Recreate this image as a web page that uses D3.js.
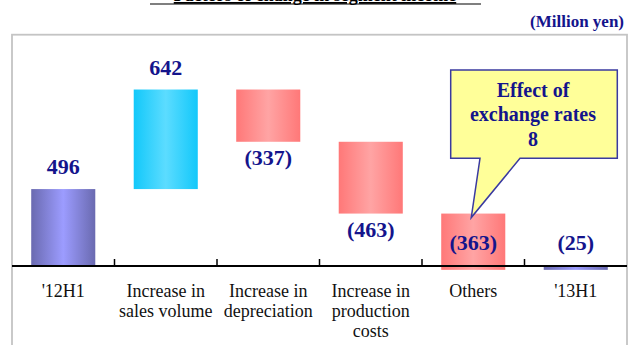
<!DOCTYPE html>
<html>
<head>
<meta charset="utf-8">
<script src="https://cdn.jsdelivr.net/npm/d3@7/dist/d3.min.js"></script>
<style>
  html, body { margin: 0; padding: 0; background: #fff; }
  svg { display: block; }
</style>
</head>
<body>
<script>
// Segment income bridge, '12H1 -> '13H1 (million yen)
const categories = ["'12H1", "Increase in\nsales volume", "Increase in\ndepreciation",
                    "Increase in\nproduction\ncosts", "Others", "'13H1"];
const changes = [496, 642, -337, -463, -363, null];   // null = closing total
const valueLabels = ["496", "642", "(337)", "(463)", "(363)", "(25)"];
const barKinds = ["total", "up", "down", "down", "down", "total"];
const calloutLines = ["Effect of", "exchange rates", "8"];
const titleText = "Factors of change in segment income";
const unitText = "(Million yen)";

// Build floating segments from the running total
let running = 0;
const bars = categories.map((c, i) => {
  let y0, y1;
  if (changes[i] === null) { y0 = 0; y1 = running; }
  else if (barKinds[i] === "total") { y0 = 0; y1 = changes[i]; running = changes[i]; }
  else { y0 = running; running += changes[i]; y1 = running; }
  return { cat: c, lo: Math.min(y0, y1), hi: Math.max(y0, y1), kind: barKinds[i],
           label: valueLabels[i], neg: (changes[i] === null ? running : changes[i]) < 0 };
});

const W = 629, H = 345;
const svg = d3.select("body").append("svg").attr("width", W).attr("height", H);

const x = d3.scaleBand().domain(categories).range([12, 627]).paddingInner(0.375).paddingOuter(0.1875);
const y = d3.scaleLinear().domain([-200, 1300]).range([297.0, 64.4]);

// Gradients: darker edges, lighter centre
const defs = svg.append("defs");
const grads = {
  total: ["#6a6ab0", "#9c9cff"],
  up:    ["#12c8fa", "#5cdcff"],
  down:  ["#ff7878", "#ffa4a4"]
};
Object.entries(grads).forEach(([k, [edge, mid]]) => {
  const g = defs.append("linearGradient").attr("id", "g-" + k)
    .attr("x1", "0%").attr("x2", "100%").attr("y1", "0%").attr("y2", "0%");
  g.append("stop").attr("offset", "0%").attr("stop-color", edge);
  g.append("stop").attr("offset", "50%").attr("stop-color", mid);
  g.append("stop").attr("offset", "100%").attr("stop-color", edge);
});

// Title (sits at the very top edge)
svg.append("text").attr("x", 315).attr("y", 1)
  .attr("text-anchor", "middle")
  .attr("font-family", "Liberation Serif, Times New Roman, serif")
  .attr("font-weight", "bold").attr("font-size", 18)
  .attr("text-decoration", "underline")
  .text(titleText);
svg.append("line").attr("x1", 150).attr("x2", 481).attr("y1", 4).attr("y2", 4)
  .attr("stroke", "#000").attr("stroke-width", 1.2);

// Unit note
svg.append("text").attr("x", 624).attr("y", 26.5)
  .attr("text-anchor", "end")
  .attr("font-family", "Liberation Serif, Times New Roman, serif")
  .attr("font-weight", "bold").attr("font-size", 17)
  .attr("fill", "#14148c")
  .text(unitText);

// Frame
svg.append("rect").attr("x", 12).attr("y", 34.7).attr("width", 615).attr("height", 340)
  .attr("fill", "none").attr("stroke", "#c4c4c4").attr("stroke-width", 1.8);

// Bars
svg.append("g").selectAll("rect").data(bars).join("rect")
  .attr("x", d => x(d.cat))
  .attr("width", x.bandwidth())
  .attr("y", d => y(d.hi))
  .attr("height", d => y(d.lo) - y(d.hi))
  .attr("fill", d => `url(#g-${d.kind})`);

// Axis with inward ticks at category boundaries
const axisY = y(0);
const axisG = svg.append("g");
axisG.append("line").attr("x1", 12).attr("x2", 627).attr("y1", axisY).attr("y2", axisY)
  .attr("stroke", "#000").attr("stroke-width", 2);
const boundaries = categories.slice(1).map(c => x(c) - x.step() * x.paddingInner() / 2);
axisG.selectAll("line.tick").data(boundaries).join("line").attr("class", "tick")
  .attr("x1", d => d).attr("x2", d => d).attr("y1", axisY - 7).attr("y2", axisY)
  .attr("stroke", "#000").attr("stroke-width", 1.5);

// Category labels
const catG = svg.append("g")
  .attr("font-family", "Liberation Serif, Times New Roman, serif")
  .attr("font-size", 18).attr("fill", "#111").attr("text-anchor", "middle");
categories.forEach(c => {
  const t = catG.append("text").attr("x", x(c) + x.bandwidth() / 2).attr("y", 297);
  c.split("\n").forEach((line, i) => {
    t.append("tspan").attr("x", x(c) + x.bandwidth() / 2).attr("dy", i === 0 ? 0 : 20).text(line);
  });
});

// Value labels
svg.append("g")
  .attr("font-family", "Liberation Serif, Times New Roman, serif")
  .attr("font-weight", "bold").attr("font-size", 22)
  .attr("fill", "#14148c").attr("text-anchor", "middle")
  .selectAll("text").data(bars).join("text")
  .attr("x", d => x(d.cat) + x.bandwidth() / 2)
  .attr("y", d => d.neg ? Math.min(y(d.lo) + 23, axisY - 15.5) : y(d.hi) - 15)
  .text(d => d.label);

// Callout for the exchange-rate effect within "Others"
const oth = categories[4];
const tipX = x(oth) + x.bandwidth() / 2 - 2, tipY = y(bars[4].hi) + 4;
const bx0 = 450.7, bx1 = 617.3, by0 = 70, by1 = 158.3;
svg.append("path")
  .attr("d", `M${bx0},${by0}H${bx1}V${by1}H520L${tipX},${tipY}L480,${by1}H${bx0}Z`)
  .attr("fill", "#ffff99").attr("stroke", "#3a3aa0").attr("stroke-width", 1.5)
  .attr("stroke-linejoin", "miter");
const ct = svg.append("text")
  .attr("font-family", "Liberation Serif, Times New Roman, serif")
  .attr("font-weight", "bold").attr("font-size", 20)
  .attr("fill", "#14148c").attr("text-anchor", "middle");
calloutLines.forEach((l, i) => {
  ct.append("tspan").attr("x", 533).attr("y", 96.7 + i * 24.5).text(l);
});
</script>
</body>
</html>
